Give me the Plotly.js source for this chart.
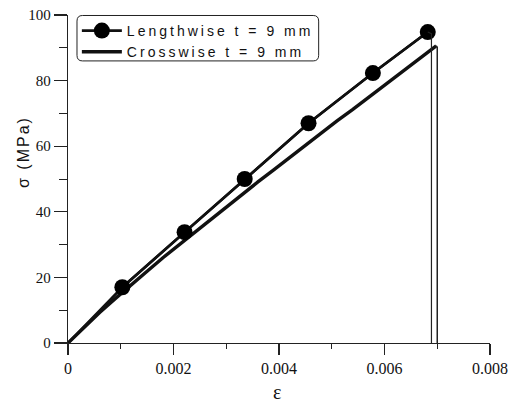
<!DOCTYPE html>
<html>
<head>
<meta charset="utf-8">
<script src="https://cdn.plot.ly/plotly-3.0.1.min.js"></script>
<style>
html,body{margin:0;padding:0;background:#fff;}
#chart{width:521px;height:402px;}
.legendtext{letter-spacing:3px;}
.annotation-text{letter-spacing:2px;}
</style>
</head>
<body>
<div id="chart"></div>
<script>
// Lengthwise t = 9 mm (line through measured markers)
const lenStrain = [0, 0.00103, 0.00221, 0.00335, 0.00456, 0.00578, 0.00682];
const lenStress = [0, 17.0, 33.8, 50.0, 67.0, 82.3, 94.8];
// Lengthwise failure drop
const lenDropStrain = [0.00682, 0.00689, 0.00689];
const lenDropStress = [94.8, 94.3, 0];

// Crosswise t = 9 mm (noisy curve)
const crossStrain = [0, 0.0003, 0.0006, 0.0009, 0.0012, 0.0015, 0.0018, 0.0021, 0.0024, 0.0027, 0.0030,
  0.0033, 0.0036, 0.0039, 0.0042, 0.0045, 0.0048, 0.0051, 0.0054, 0.0057, 0.0060, 0.0063, 0.0066, 0.00698];
const crossStress = [0, 4.8, 9.3, 13.6, 17.9, 21.9, 26.0, 29.9, 33.6, 37.6, 41.5,
  45.4, 49.1, 52.8, 56.6, 60.2, 63.9, 67.7, 71.2, 74.9, 78.5, 82.0, 85.8, 90.6];
// Crosswise failure drop
const crossDropStrain = [0.00698, 0.00700, 0.00700];
const crossDropStress = [90.6, 90.2, 0];

const xTickVals = [0, 0.002, 0.004, 0.006, 0.008];
const xTickText = ['0', '0.002', '0.004', '0.006', '0.008'];
const yTickVals = [0, 20, 40, 60, 80, 100];
const xTitle = 'ε';
const yTitle = 'σ (MPa)';

const serif = 'Liberation Serif';
const sans = 'Liberation Sans';

const traces = [
  {x: crossStrain, y: crossStress, mode: 'lines', name: 'Crosswise t = 9 mm',
   line: {color: '#111', width: 3.4}, legendrank: 2},
  {x: crossDropStrain, y: crossDropStress, mode: 'lines', showlegend: false,
   line: {color: '#222', width: 1.5}},
  {x: lenStrain, y: lenStress, mode: 'lines', showlegend: false,
   line: {color: '#111', width: 2.6}},
  {x: lenStrain.slice(1), y: lenStress.slice(1), mode: 'lines+markers', name: 'Lengthwise t = 9 mm',
   line: {color: '#111', width: 2.6}, marker: {color: '#000', size: 16}, legendrank: 1},
  {x: lenDropStrain, y: lenDropStress, mode: 'lines', showlegend: false,
   line: {color: '#222', width: 1.2}}
];

// rounded legend frame (paper coords)
const bx0 = 0.0213, bx1 = 0.594, by0 = 0.86, by1 = 0.9985, rx = 0.013, ry = 0.017;
const framePath = `M ${bx0+rx},${by1} L ${bx1-rx},${by1} Q ${bx1},${by1} ${bx1},${by1-ry} ` +
  `L ${bx1},${by0+ry} Q ${bx1},${by0} ${bx1-rx},${by0} L ${bx0+rx},${by0} Q ${bx0},${by0} ${bx0},${by0+ry} ` +
  `L ${bx0},${by1-ry} Q ${bx0},${by1} ${bx0+rx},${by1} Z`;

const layout = {
  width: 521, height: 402,
  margin: {l: 68, r: 31, t: 15, b: 59},
  paper_bgcolor: '#fff', plot_bgcolor: '#fff',
  font: {family: sans, color: '#111'},
  showlegend: true,
  legend: {x: 0.021, y: 1.0, xanchor: 'left', yanchor: 'top',
    bgcolor: 'rgba(0,0,0,0)', borderwidth: 0,
    font: {family: sans, size: 14, color: '#111'},
    tracegroupgap: 0, itemwidth: 40},
  shapes: [{type: 'path', xref: 'paper', yref: 'paper', path: framePath,
    line: {color: '#222', width: 1}, fillcolor: '#fff', layer: 'above'}],
  annotations: [
    {text: yTitle, xref: 'paper', yref: 'paper', x: -0.107, y: 0.582, xanchor: 'center', yanchor: 'middle',
     textangle: -90, showarrow: false, font: {family: sans, size: 16, color: '#111'}},
    {text: xTitle, xref: 'paper', yref: 'paper', x: 0.498, y: -0.149, xanchor: 'center', yanchor: 'middle',
     showarrow: false, font: {family: serif, size: 20, color: '#111'}}
  ],
  xaxis: {
    range: [0, 0.008], showgrid: false, zeroline: false,
    showline: true, linecolor: '#222', linewidth: 1.2,
    ticks: 'outside', ticklen: 11, tickcolor: '#222', tickwidth: 1.2,
    tickvals: xTickVals, ticktext: xTickText,
    tickfont: {family: serif, size: 16, color: '#111'},
    minor: {ticks: 'outside', ticklen: 5, dtick: 0.001, tickcolor: '#222', tickwidth: 1}
  },
  yaxis: {
    range: [0, 100], showgrid: false, zeroline: false,
    showline: true, linecolor: '#222', linewidth: 1.2,
    ticks: 'outside', ticklen: 13, tickcolor: '#222', tickwidth: 1.2,
    tickvals: yTickVals,
    tickfont: {family: serif, size: 15, color: '#111'},
    minor: {ticks: 'outside', ticklen: 8, dtick: 10, tickcolor: '#222', tickwidth: 1}
  }
};

Plotly.newPlot('chart', traces, layout, {staticPlot: true, displayModeBar: false});
</script>
</body>
</html>
